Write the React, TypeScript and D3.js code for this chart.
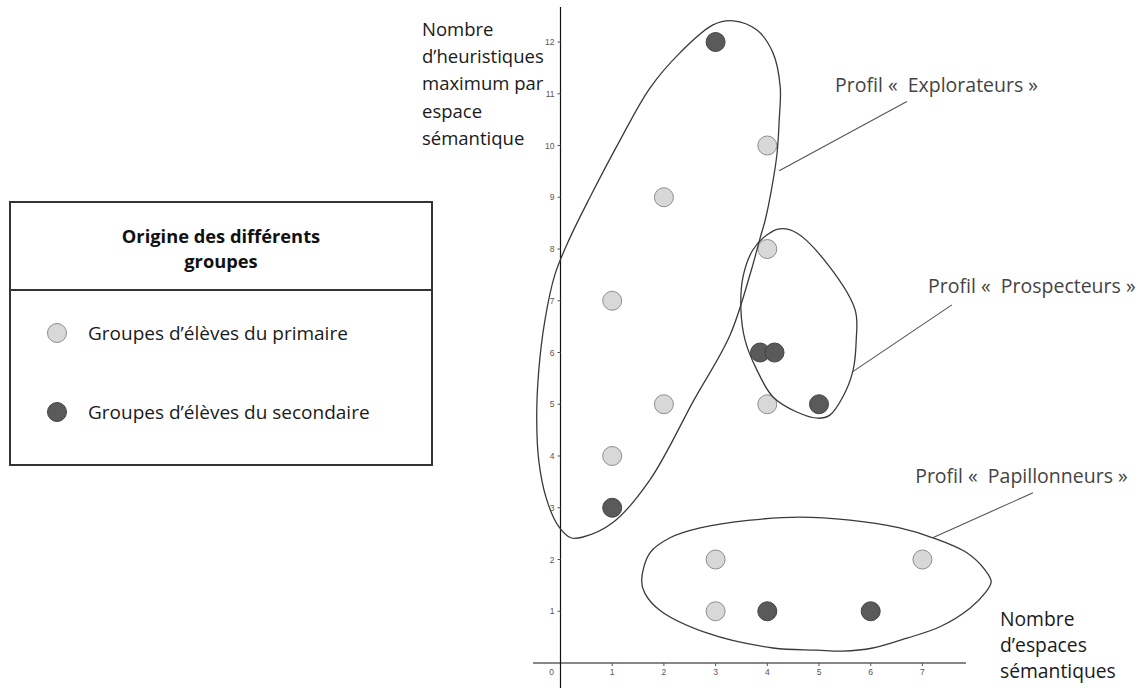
import React from "react";
import * as d3 from "d3";

// ---- Data ----
const xTicks = [0, 1, 2, 3, 4, 5, 6, 7];
const yTicks = [1, 2, 3, 4, 5, 6, 7, 8, 9, 10, 11, 12];

// group: "primaire" (light) / "secondaire" (dark)
const primaireX = [4, 2, 4, 1, 2, 4, 1, 3, 7, 3];
const primaireY = [10, 9, 8, 7, 5, 5, 4, 2, 2, 1];
const secondaireX = [3, 3.86, 4.14, 5, 1, 4, 6];
const secondaireY = [12, 6, 6, 5, 3, 1, 1];

// Hand-drawn profile outlines (data units)
const explorateurs: [number, number][] = [
  [2.95, 12.33], [3.34, 12.41], [3.8, 12.23], [4.11, 11.79], [4.25, 11.13], [4.23, 10.49],
  [4.19, 9.86], [4.09, 9.2], [3.96, 8.56], [3.86, 8.21], [3.69, 7.59], [3.28, 6.34],
  [2.58, 5.08], [1.73, 3.54], [1.02, 2.72], [0.42, 2.43], [0.2, 2.42], [-0.05, 2.66],
  [-0.28, 3.2], [-0.42, 3.91], [-0.46, 4.75], [-0.42, 5.66], [-0.3, 6.63], [-0.11, 7.5],
  [0.18, 8.21], [0.57, 9.0], [1.15, 10.1], [1.73, 11.11], [2.31, 11.79],
];
const prospecteurs: [number, number][] = [
  [4.24, 8.39], [4.57, 8.31], [5.21, 7.65], [5.7, 6.82], [5.72, 6.24], [5.66, 5.66],
  [5.46, 5.14], [5.21, 4.79], [4.98, 4.73], [4.57, 4.85], [4.11, 5.14], [3.8, 5.66],
  [3.57, 6.24], [3.49, 6.82], [3.53, 7.46], [3.72, 7.98], [3.99, 8.27],
];
const papillonneurs: [number, number][] = [
  [1.57, 1.6], [1.73, 2.13], [2.12, 2.42], [2.7, 2.61], [3.67, 2.76], [4.63, 2.82],
  [5.6, 2.76], [6.56, 2.61], [7.2, 2.42], [7.86, 2.13], [8.21, 1.8], [8.33, 1.57],
  [8.21, 1.35], [7.92, 1.06], [7.34, 0.7], [6.7, 0.48], [6.04, 0.29], [5.46, 0.23],
  [4.96, 0.25], [4.11, 0.29], [2.83, 0.58], [1.92, 1.02], [1.63, 1.35],
];

const profileLabels = ["Profil «  Explorateurs »", "Profil «  Prospecteurs »", "Profil «  Papillonneurs »"];
const leaderFrom: [number, number][] = [[4.23, 9.51], [5.64, 5.62], [7.2, 2.42]];
const leaderTo: [number, number][] = [[6.7, 10.85], [7.57, 6.92], [9.14, 3.29]];
const labelAnchor: [number, number][] = [[5.31, 11.03], [7.11, 7.15], [6.86, 3.48]];

const yTitleLines = ["Nombre", "d’heuristiques", "maximum par", "espace", "sémantique"];
const xTitleLines = ["Nombre", "d’espaces", "sémantiques"];
const legendTitleLines = ["Origine des différents", "groupes"];
const legendItems = ["Groupes d’élèves du primaire", "Groupes d’élèves du secondaire"];

const W = 1145;
const H = 688;
const FONT = "'Open Sans', 'Noto Sans', sans-serif";
const LIGHT = "#d8d8d8";
const LIGHT_STROKE = "#8e8e8e";
const DARK = "#5a5a5a";
const DARK_STROKE = "#444";

export default function App() {
  const x = d3.scaleLinear().domain([0, 7]).range([560.5, 560.5 + 7 * 51.7]);
  const y = d3.scaleLinear().domain([0, 12]).range([663, 663 - 12 * 51.75]);

  const outline = d3
    .line<[number, number]>()
    .x((d) => x(d[0]))
    .y((d) => y(d[1]))
    .curve(d3.curveCatmullRomClosed.alpha(0.5));

  const primaire = primaireX.map((v, i) => [v, primaireY[i]]);
  const secondaire = secondaireX.map((v, i) => [v, secondaireY[i]]);

  return (
    <svg
      width={W}
      height={H}
      style={{ position: "absolute", left: 0, top: 0, background: "#fff" }}
      fontFamily={FONT}
    >
      {/* axes */}
      <line x1={x(0)} x2={x(0)} y1={7} y2={H} stroke="#111" strokeWidth={1.2} />
      <line x1={533} x2={966} y1={y(0)} y2={y(0)} stroke="#111" strokeWidth={1.2} />
      {yTicks.map((t) => (
        <g key={"y" + t}>
          <line x1={x(0) - 3} x2={x(0)} y1={y(t)} y2={y(t)} stroke="#555" strokeWidth={1} />
          <text x={x(0) - 6} y={y(t) + 3} fontSize={8.5} fill="#555" textAnchor="end" fontFamily="'Liberation Sans', Arial, sans-serif">
            {t}
          </text>
        </g>
      ))}
      {xTicks.map((t) => (
        <g key={"x" + t}>
          {t > 0 && <line x1={x(t)} x2={x(t)} y1={y(0)} y2={y(0) + 3} stroke="#555" strokeWidth={1} />}
          <text
            x={t === 0 ? x(0) - 9 : x(t)}
            y={y(0) + 12}
            fontSize={8.5}
            fill="#555"
            textAnchor="middle"
            fontFamily="'Liberation Sans', Arial, sans-serif"
          >
            {t}
          </text>
        </g>
      ))}

      {/* points */}
      {primaire.map((d, i) => (
        <circle key={"p" + i} cx={x(d[0])} cy={y(d[1])} r={9.5} fill={LIGHT} stroke={LIGHT_STROKE} strokeWidth={1} />
      ))}
      {secondaire.map((d, i) => (
        <circle key={"s" + i} cx={x(d[0])} cy={y(d[1])} r={9.5} fill={DARK} stroke={DARK_STROKE} strokeWidth={1} />
      ))}

      {/* outlines */}
      {[explorateurs, prospecteurs, papillonneurs].map((pts, i) => (
        <path key={"o" + i} d={outline(pts) || ""} fill="none" stroke="#3a3a3a" strokeWidth={1.3} />
      ))}

      {/* annotations */}
      {profileLabels.map((lab, i) => (
        <g key={"a" + i}>
          <line
            x1={x(leaderFrom[i][0])}
            y1={y(leaderFrom[i][1])}
            x2={x(leaderTo[i][0])}
            y2={y(leaderTo[i][1])}
            stroke="#555"
            strokeWidth={1.1}
          />
          <text
            x={x(labelAnchor[i][0])}
            y={y(labelAnchor[i][1])}
            fontSize={19.5}
            fill="#444"
            style={{ whiteSpace: "pre" }}
          >
            {lab}
          </text>
        </g>
      ))}

      {/* axis titles */}
      <text fontSize={18.5} fill="#1a1a1a">
        {yTitleLines.map((l, i) => (
          <tspan key={i} x={422} y={36 + i * 27.2}>
            {l}
          </tspan>
        ))}
      </text>
      <text fontSize={19.3} fill="#1a1a1a">
        {xTitleLines.map((l, i) => (
          <tspan key={i} x={1000} y={626 + i * 26}>
            {l}
          </tspan>
        ))}
      </text>

      {/* legend */}
      <rect x={10} y={202} width={422} height={263} fill="#fff" stroke="#333" strokeWidth={2} />
      <line x1={10} x2={432} y1={290} y2={290} stroke="#333" strokeWidth={2} />
      <text fontSize={18.3} fontWeight="bold" fill="#111" textAnchor="middle">
        {legendTitleLines.map((l, i) => (
          <tspan key={i} x={221} y={243 + i * 25}>
            {l}
          </tspan>
        ))}
      </text>
      {legendItems.map((l, i) => (
        <g key={"l" + i}>
          <circle
            cx={57}
            cy={333 + i * 79}
            r={9.5}
            fill={i === 0 ? LIGHT : DARK}
            stroke={i === 0 ? LIGHT_STROKE : DARK_STROKE}
            strokeWidth={1}
          />
          <text x={88} y={340 + i * 79} fontSize={19} fill="#1a1a1a">
            {l}
          </text>
        </g>
      ))}
    </svg>
  );
}
